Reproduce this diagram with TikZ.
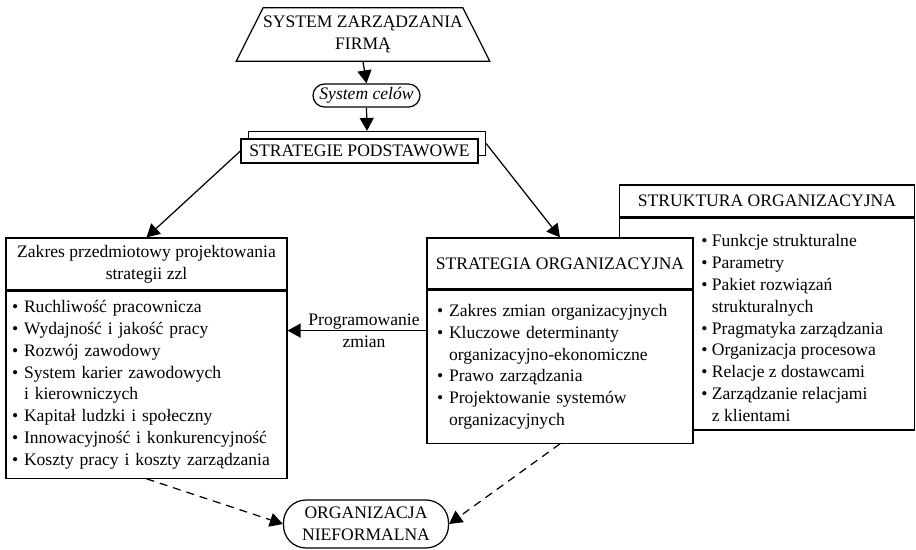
\documentclass[tikz,border=0pt]{standalone}
\usepackage{fontspec}
\setmainfont{Liberation Serif}
\usetikzlibrary{arrows.meta,positioning}
\newcommand{\txt}{\fontsize{10}{12.4}\selectfont}
\newcommand{\bul}{\textbullet\ }
\newcommand{\cont}{\phantom{\textbullet\ }}
\tikzset{
  box/.style={draw, fill=white, line width=.7pt, inner sep=0pt, font=\txt},
  head/.style={box, align=center},
  body/.style={box, align=left},
  list/.style={align=left, inner sep=0pt, font=\txt},
  arr/.style={-{Triangle[length=2.6mm,width=2.8mm]}, line width=.7pt},
  dasharr/.style={arr, dash pattern=on 1.6mm off 1.2mm}
}
\begin{document}
\begin{tikzpicture}[x=0.02cm,y=-0.02cm]
  \useasboundingbox (0,0) rectangle (916,550);

  % top of the chain
  \node[minimum width=5.06cm, minimum height=1.06cm, inner sep=0pt, align=center, font=\txt] (szf) at (363,34.5) {SYSTEM ZARZĄDZANIA\\FIRMĄ};
  \draw[line width=.7pt] ([xshift=.54cm]szf.north west) -- ([xshift=-.54cm]szf.north east) -- (szf.south east) -- (szf.south west) -- cycle;
  \node[box, rounded corners=.23cm, minimum width=2.14cm, minimum height=.46cm, font=\txt\itshape] (cel) at (366.5,95.5) {System celów};
  \node[box, minimum width=4.74cm, minimum height=.48cm] (spb) at (367,143.5) {};
  \node[box, minimum width=4.74cm, minimum height=.48cm] (sp) at (359.5,151) {STRATEGIE PODSTAWOWE};
  \draw[arr] (szf.south) -- (cel.north);
  \draw[arr] (cel.south) -- (spb.north);

  % right box (behind)
  \node[head, minimum width=5.9cm, minimum height=.64cm] (rh) at (767,201) {STRUKTURA ORGANIZACYJNA};
  \node[body, below=0pt of rh, minimum width=5.9cm, minimum height=4.22cm] (rb) {};
  \draw[line width=1.2pt] (rb.south west) -- (rb.south east);
  \node[list, anchor=west] (rl) at (701,328) {\bul Funkcje strukturalne\\ \bul Parametry\\ \bul Pakiet rozwiązań\\ \cont strukturalnych\\
    \bul Pragmatyka zarządzania\\ \bul Organizacja procesowa\\ \bul Relacje z dostawcami\\ \bul Zarządzanie relacjami\\ \cont z klientami};

  % left box
  \node[head, minimum width=5.62cm, minimum height=1.04cm] (lh) at (146.5,264) {Zakres przedmiotowy projektowania\\strategii zzl};
  \node[body, below=0pt of lh, text width=5.38cm, inner xsep=.12cm, minimum height=3.74cm] (lb) {\bul Ruchliwość pracownicza\\ \bul Wydajność i jakość pracy\\
    \bul Rozwój zawodowy\\ \bul System karier zawodowych\\ \cont i kierowniczych\\ \bul Kapitał ludzki i społeczny\\
    \bul Innowacyjność i konkurencyjność\\ \bul Koszty pracy i koszty zarządzania};

  % middle box
  \node[head, minimum width=5.32cm, minimum height=1.02cm] (mh) at (560,263.5) {STRATEGIA ORGANIZACYJNA};
  \node[body, below=0pt of mh, text width=4.92cm, inner xsep=.2cm, minimum height=3.06cm] (mb) {\bul Zakres zmian organizacyjnych\\ \bul Kluczowe determinanty\\
    \cont organizacyjno-ekonomiczne\\ \bul Prawo zarządzania\\ \bul Projektowanie systemów\\ \cont organizacyjnych};

  \draw[arr] (sp.west) -- (lh.north);
  \draw[arr] (spb.east) -- (mh.north);
  \coordinate (pz) at ([yshift=-.82cm]mb.north west);
  \draw[arr] (pz) -- (pz -| lb.east) node[midway, xshift=.14cm, align=center, font=\txt] (pzl) {Programowanie\\zmian};

  % bottom
  \node[box, rounded corners=.45cm, minimum width=3.3cm, minimum height=.96cm, align=center] (nf) at (366,524) {ORGANIZACJA\\NIEFORMALNA};
  \draw[dasharr] (lb.south) -- (nf.west);
  \draw[dasharr] (mb.south) -- (nf.east);
\end{tikzpicture}
\end{document}
